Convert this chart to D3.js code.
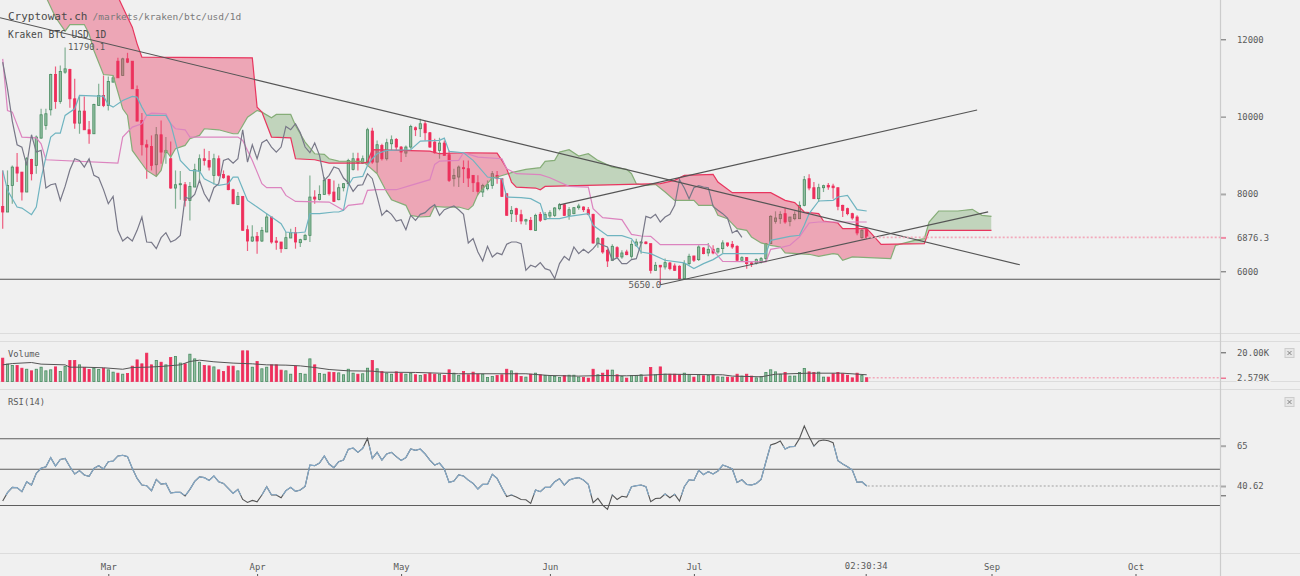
<!DOCTYPE html>
<html><head><meta charset="utf-8">
<script src="https://cdnjs.cloudflare.com/ajax/libs/d3/7.8.5/d3.min.js"></script>
<style>
html,body{margin:0;padding:0;background:#f0f0f0;overflow:hidden}
svg{display:block}
text{font-family:"DejaVu Sans Mono",monospace;fill:#5a5a5a}
</style></head><body>
<svg id="c" width="1300" height="576"></svg>
<script>
const title="Cryptowat.ch", pathLabel="/markets/kraken/btc/usd/1d", pairLabel="Kraken BTC USD 1D";
const monthTicks=["2018-03-01","2018-04-01","2018-05-01","2018-06-01","2018-07-01","2018-09-01","2018-10-01"];
const priceTicks=[12000,10000,8000,6876.3,6000];
const volumeTicks=[20000,2579];
const rsiTicks=[65,40.62,35];
const lastPrice=6876.3,lastVolume=2.579,lastRsi=40.62,floorPrice=5793;
const opens=[7679,7533,8222,8695,8566,8050,8894,8739,9445,9772,
10177,11090,10392,11150,11219,10461,9832,10143,9660,9557,
10289,10547,10289,10892,11434,11064,11495,11434,10702,9901,
9273,9230,8756,9531,9066,8911,8153,8239,8239,7834,
8179,8592,8911,8868,8480,8911,8506,8463,8110,7731,
7938,7076,6783,6904,6783,7016,7404,6783,6758,6585,
6861,6999,6740,6818,6930,7920,7860,7989,8377,8050,
7852,8162,8265,8636,8911,8799,8799,9626,8825,9256,
8911,9299,9411,9213,9058,9213,9712,9687,9816,9583,
9342,9127,9316,9015,8395,8438,8679,8653,8481,8291,
8050,8136,8222,8481,8395,8007,7490,7619,7464,7301,
7318,7059,7473,7344,7430,7447,7619,7723,7447,7490,
7645,7662,7593,7473,6715,6844,6543,6284,6612,6371,
6500,6388,6672,6732,6758,6715,6026,6156,6112,6216,
6138,6130,5811,6199,6397,6302,6603,6474,6569,6500,
6586,6733,6698,6646,6285,6354,6216,6216,6242,6328,
6715,7292,7361,7491,7292,7361,7361,7706,8395,8162,
7878,8162,8223,8205,8162,7706,7620,7491,7404,6870,7077];
const closes=[7533,8222,8695,8540,8050,8911,8523,9471,10048,10074,
11090,10392,11167,11236,10461,9832,10143,9660,9557,10315,
10547,10289,10909,11004,11004,11495,11409,10720,9884,9273,
9212,8739,9531,9083,9126,8153,8239,8265,7834,8196,
8627,8911,8868,8695,8911,8480,8420,8112,7748,7938,
7059,6783,6887,6783,7059,7404,6758,6749,6585,6870,
6999,6758,6818,6930,7920,7869,7989,8351,8007,7809,
8162,8265,8868,8911,8799,8911,9661,8825,9273,8911,
9325,9402,9213,9084,9213,9747,9661,9816,9583,9213,
9066,9316,8998,8351,8481,8696,8653,8412,8291,8067,
8222,8239,8524,8395,7938,7447,7576,7473,7301,7335,
7077,7447,7318,7473,7516,7637,7723,7447,7593,7645,
7688,7593,7473,6732,6844,6500,6267,6646,6371,6474,
6431,6698,6758,6758,6715,6026,6156,6112,6224,6069,
6026,5811,6199,6388,6285,6629,6457,6569,6474,6586,
6733,6672,6629,6285,6354,6199,6199,6302,6328,6715,
7422,7379,7473,7275,7404,7473,7706,8369,8154,7878,
8162,8214,8180,8162,7680,7577,7491,7379,6991,7060,6876.3];
const highs=[8609,8609,8739,9057,8566,8954,8911,9514,10203,10203,
11107,11297,11323,11790.1,11236,10978,10521,10521,9884,10332,
10849,11064,11038,11064,11520,11520,11650,11434,10806,10091,
9402,9514,9729,9901,9471,9359,8609,8592,8308,8308,
8782,9023,9169,9109,9040,8997,8609,8480,8136,8050,
7938,7188,7188,7016,7145,7490,7404,6887,6758,7016,
7102,7145,6844,6973,8480,8093,8222,8437,8394,8351,
8265,8283,8911,9066,9066,8998,9712,9712,9385,9299,
9428,9514,9445,9239,9256,9790,9747,9945,9885,9600,
9428,9454,9385,9127,8653,8739,8868,8868,8481,8481,
8265,8351,8593,8593,8395,8007,7688,7645,7593,7361,
7404,7490,7533,7533,7576,7662,7766,7731,7662,7662,
7749,7680,7662,7490,6887,6870,6586,6698,6646,6543,
6560,6801,6844,6784,6775,6715,6242,6156,6328,6242,
6199,6156,6285,6457,6397,6672,6629,6733,6672,6612,
6801,6741,6784,6672,6388,6371,6242,6328,6371,6715,
7448,7551,7551,7646,7404,7551,7809,8464,8507,8309,
8266,8240,8283,8266,8162,7723,7646,7516,7448,7103,7146];
const lows=[7102,7533,7748,8308,7834,8050,8351,8523,9428,9660,
10031,10203,10332,11107,10229,9686,9557,9660,9299,9557,
10289,10246,10160,10892,11004,11064,11383,10720,9884,8997,
8394,8609,8454,8782,8782,8136,7619,7851,7679,7317,
8179,8308,8739,8609,8248,8454,8394,8093,7731,7731,
7059,6525,6758,6456,6758,7016,6715,6559,6482,6585,
6861,6585,6628,6801,6758,7748,7834,7989,7963,7792,
7835,8067,8222,8610,8610,8782,8799,8782,8541,8868,
8868,9127,9127,8825,8954,9170,9497,9471,9385,9196,
9041,8911,8998,8308,8196,8179,8283,8179,8050,7964,
7921,8093,8136,8265,7921,7447,7275,7275,7215,7206,
7059,7042,7275,7318,7361,7404,7576,7430,7335,7473,
7593,7533,7447,6715,6612,6457,6112,6267,6327,6327,
6414,6327,6629,6457,6698,5940,6009,5650,6044,6026,
6009,5794,5794,6156,6242,6267,6440,6388,6440,6457,
6474,6629,6586,6259,6242,6069,6112,6173,6199,6242,
6715,7232,7232,7232,7163,7318,7361,7680,8093,7878,
7792,8050,8111,7878,7577,7404,7448,7336,6931,6845,6845];
const volumes=[16.0,11.9,11.0,11.0,9.1,8.4,7.3,8.4,9.8,7.3,
8.0,10.0,6.8,10.3,14.4,14.4,11.4,9.6,8.2,9.1,
8.2,9.1,8.0,6.4,5.7,5.0,5.5,10.5,14.8,12.1,
19.4,11.4,14.4,13.2,11.4,16.4,17.1,12.6,12.1,18.7,
15.5,13.2,11.0,10.7,10.0,8.0,6.8,10.5,10.5,7.3,
21.0,21.0,9.8,13.7,8.7,9.8,11.4,11.4,7.8,7.3,
5.0,10.5,5.5,5.0,15.5,11.4,5.5,5.0,6.4,6.2,
5.9,4.6,8.4,5.7,5.0,5.3,9.1,14.4,8.7,6.8,
5.7,5.0,6.6,5.7,5.0,5.7,4.6,4.1,4.8,5.7,
5.0,5.0,
4.1,8.0,5.7,4.1,6.8,4.6,6.4,5.0,5.0,2.7,
3.4,4.1,4.6,8.4,7.3,5.7,3.4,3.0,5.0,5.7,
4.6,4.1,4.1,3.4,2.7,4.1,4.3,4.3,3.0,2.7,
2.3,8.4,4.6,5.7,7.8,7.8,4.6,3.4,2.3,4.1,
4.1,4.6,3.0,9.6,4.6,10.0,5.0,5.0,5.0,4.6,
5.7,4.8,3.0,4.6,3.9,4.1,4.6,3.2,3.0,3.0,
2.7,5.0,3.7,5.0,3.7,2.5,3.4,6.2,8.0,6.6,
5.0,6.2,3.7,3.7,6.2,8.9,6.6,6.2,6.4,3.0,
3.0,5.3,6.2,5.3,4.3,2.5,5.7,4.1,2.579];
const rsiValues=[31.5,36.6,39.8,39.6,37.2,43.2,41.2,48.3,51.3,52.3,
57.8,52.7,56.7,57.3,52.3,47.9,49.9,47.3,46.5,51.3,
52.9,50.9,55.3,55.7,58.8,59.2,58.4,51.3,45.2,41.2,
40.8,37.8,44.6,41.8,42.2,36.4,36.8,36.8,34.6,38.6,
43.4,46.1,45.7,44.0,46.7,43.2,42.2,39.2,36.2,38.6,
32.5,30.7,31.9,31.1,35.2,40.2,35.2,35.2,33.5,37.8,
39.8,37.4,38.2,40.4,53.3,52.9,54.5,58.8,53.9,51.7,
55.3,56.3,62.8,63.6,61.0,63.4,69.4,57.3,61.0,56.3,
60.0,61.0,58.4,56.1,57.8,63.0,62.2,63.0,60.0,56.3,
53.3,54.5,
50.9,42.8,43.6,47.3,46.7,44.2,42.2,38.8,41.6,41.6,
47.7,45.2,39.6,34.2,35.2,33.9,32.5,32.3,30.1,38.2,
37.2,39.8,39.8,43.2,45.0,41.2,44.2,45.2,45.7,44.2,
41.6,30.5,33.1,29.1,26.5,35.2,32.5,34.4,33.9,40.2,
40.8,41.2,40.2,31.1,33.1,33.3,35.8,33.5,35.6,31.5,
40.2,44.4,44.0,50.1,47.5,49.3,47.9,49.7,53.3,52.3,
50.9,42.8,44.4,41.6,41.2,42.2,44.6,55.3,65.4,66.4,
67.8,63.0,64.4,64.6,69.4,76.9,70.5,64.8,67.8,68.4,
68.0,66.8,55.9,53.9,52.3,50.3,42.8,43.2,40.62];
const rsiLevels=[69.2,50.8,28.8];
const tenkanDays=[0,1,3,4,6,7,8,9,10,11,12,13,15,16,20,21,22,23,25,27,28,29,30,34,35,36,37,39,41,42,44,45,47,48,49,50,51,53,55,56,58,59,61,63,64,66,69,70,71,72,73,75,76,77,78,80,85,87,91,92,93,96,98,101,102,104,105,108,110,112,113,116,118,122,123,126,129,131,133,135,138,142,144,146,148,150,152,159,160,164,166,167,168,170,173,174,176,178,180];
const tenkanVals=[8609,8093,7662,7636,7464,7662,8394,8954,9471,9574,9574,10031,10203,10547,10530,10530,10315,10246,10418,10521,10504,10246,10031,10031,9815,9341,8868,8609,8592,8394,8265,8222,8265,8437,8437,8136,7834,7662,7490,7404,7231,7016,6990,7016,7490,7490,7533,7533,7576,8222,8420,8455,8739,8911,9041,9127,9144,9368,9385,9445,9101,9066,8868,8438,8420,8395,7921,7904,7878,7749,7361,7361,7421,7490,7189,6922,6922,6844,6500,6457,6285,6216,6069,6199,6302,6457,6457,6457,6801,6905,6931,7189,7491,7818,7835,7921,7964,7594,7559];
const kijunDays=[0,1,2,4,7,8,9,24,25,27,29,30,31,34,35,36,38,39,49,50,52,54,55,58,59,61,68,71,72,75,76,78,82,85,89,90,91,95,96,99,104,105,107,112,114,118,122,123,125,129,131,133,135,137,147,148,150,159,160,162,164,166,168,170,180];
const kijunVals=[11495,10160,10117,9471,9453,9298,8885,8799,9471,9729,9815,10031,10091,10074,9815,9686,9660,9471,9471,9385,8868,8265,8162,8162,7963,7808,7791,7576,7706,7749,8093,8110,8110,8222,8369,8765,8851,8868,9066,8954,8911,8653,8524,8498,8420,8196,8179,7619,7387,7335,6956,6913,6905,6689,6689,6543,6259,6242,6569,6612,6672,6888,7249,7275,7275];
const spanADays=[9,11,13,14,17,18,19,21,23,25,26,27,29,30,32,33,34,35,36,38,39,41,42,45,48,49,51,53,54,56,57,60,61,63,65,67,68,70,75,76,78,80,81,84,85,87,89,90,92,95,97,98,99,101,102,103,106,109,112,113,115,116,118,120,122,124,127,130,131,132,134,136,138,140,144,145,148,149,151,153,155,156,158,160,162,163,168,170,173,174,175,177,185,186,190,192,193,195,199,202,204,206];
const spanAVals=[13100,12571,12210,12382,12382,12141,11710,11090,11064,10203,10031,9126,8782,8609,8454,8609,9126,8954,9169,9256,9428,9514,9686,9660,9557,9557,9987,10160,10117,9970,10056,10056,9772,9341,9040,9023,8911,8851,8842,8739,8524,8050,7852,7706,7447,7404,7421,7680,7662,7662,7593,7706,7990,8265,8420,8438,8550,8636,8679,8842,8868,9084,9144,8980,9041,8868,8696,8636,8524,8265,8222,8248,8050,7835,7835,7706,7706,7447,7361,7103,7060,6888,6733,6672,6629,6474,6440,6388,6457,6440,6285,6371,6328,6672,6801,6844,7275,7559,7559,7602,7447,7421];
const spanBDays=[9,20,24,26,27,28,29,52,53,54,56,60,61,65,68,75,76,77,89,91,96,103,104,105,106,107,111,112,113,137,140,142,148,149,152,160,163,165,167,170,171,174,175,180,181,183,192,193,206];
const spanBVals=[14800,14000,13100,12572,12313,11882,11538,11520,10246,10117,9471,9453,8911,8885,8799,8799,8825,9144,9109,9041,9066,9058,8868,8653,8308,8179,8153,8110,8196,8266,8352,8481,8507,8309,8033,8033,7835,7775,7534,7490,7301,7249,7103,7103,6974,6698,6715,7060,7060];
const volAvgDays=[0,2,6,8,13,14,17,21,25,27,30,33,37,39,41,44,48,52,55,59,62,65,68,72,77,79,86,91,95,105,109,114,120,125,130,136,138,150,152,158,161,168,175,180];
const volAvgVals=[11.4,12.3,13.0,11.9,11.4,9.8,9.8,9.4,8.4,9.6,9.8,10.3,11.4,13.7,14.6,13.5,12.6,12.1,11.4,11.2,10.7,9.6,8.2,7.3,7.1,6.4,6.2,5.7,5.3,5.3,5.3,4.1,3.7,4.1,3.9,4.6,5.0,4.6,3.7,3.2,5.0,5.7,5.7,4.6];
const trendDays=[[-0.56,211.9],[116,203],[137,205.3]];
const trendPrices=[[12556,6168],[7718,10173],[5650,7537]];

const W=1220,t0=Date.UTC(2018,1,7),dayMs=864e5;
const dateOf=k=>new Date(t0+k*dayMs);
const x=d3.scaleUtc().domain([dateOf(0),new Date(Date.UTC(2018,9,1))]).range([2.7,1135.5]);
const xd=k=>x(dateOf(k));
const y=d3.scaleLinear().domain([6000,12000]).range([271.3,39.3]);
const yVol=d3.scaleLinear().domain([0,20]).range([381.5,352.3]);
const yRsi=d3.scaleLinear().domain([35,65]).range([495.3,445.7]);
const RED="#ee2e5b",GREEN="#478c60",GREENF="#93bea2";
const svg=d3.select("#c");
const defs=svg.append("defs");
const pts=(ds,vs)=>ds.map((d,i)=>[d,vs[i]]);
const A=pts(spanADays,spanAVals),B=pts(spanBDays,spanBVals);
const mainPane=svg.append("g").attr("clip-path","url(#mainClip)");
defs.append("clipPath").attr("id","mainClip").append("rect").attr("x",0).attr("y",0).attr("width",W).attr("height",333);

// separators
[[333.5],[341.5],[381.5],[389.5],[553.5]].forEach(([v])=>svg.insert("line",":first-child").attr("x1",0).attr("x2",1300).attr("y1",v).attr("y2",v).attr("stroke","#dcdcdc").attr("stroke-width",1.2));

// candles
const candleG=mainPane.append("g");
const idx=d3.range(closes.length);
const isUp=i=>closes[i]>=opens[i];
candleG.selectAll("line").data(idx).join("line")
 .attr("x1",i=>xd(i)).attr("x2",i=>xd(i)).attr("y1",i=>y(highs[i])).attr("y2",i=>y(lows[i]))
 .attr("stroke",i=>isUp(i)?"#5f9b76":RED).attr("stroke-width",1.2).attr("opacity",.75);
candleG.selectAll("rect").data(idx).join("rect")
 .attr("x",i=>xd(i)-1.1).attr("width",2.2)
 .attr("y",i=>y(Math.max(opens[i],closes[i])))
 .attr("height",i=>Math.max(1,Math.abs(y(opens[i])-y(closes[i]))))
 .attr("fill",i=>isUp(i)?GREENF:RED).attr("stroke",i=>isUp(i)?GREEN:RED).attr("stroke-width",.8);

// cloud
const bottomV=y.invert(333),topV=y.invert(-5);
const areaAbove=a=>d3.area().x(d=>xd(d[0])).y1(d=>y(d[1])).y0(y(topV))(a);
const areaBelow=a=>d3.area().x(d=>xd(d[0])).y1(d=>y(d[1])).y0(y(bottomV))(a);
defs.append("clipPath").attr("id","aboveA").append("path").attr("d",areaAbove(A));
defs.append("clipPath").attr("id","aboveB").append("path").attr("d",areaAbove(B));
mainPane.append("g").attr("clip-path","url(#aboveA)").append("path").attr("d",areaBelow(B)).attr("fill","#e8365f").attr("opacity",.4);
mainPane.append("g").attr("clip-path","url(#aboveB)").append("path").attr("d",areaBelow(A)).attr("fill","#72a664").attr("opacity",.37);

const line=d3.line().x(d=>xd(d[0])).y(d=>y(d[1]));
mainPane.append("path").attr("d",line(A)).attr("fill","none").attr("stroke","#86ad78").attr("stroke-width",1.2);
mainPane.append("path").attr("d",line(B)).attr("fill","none").attr("stroke","#e8365f").attr("stroke-width",1.2);
mainPane.append("path").attr("d",line(pts(kijunDays,kijunVals))).attr("fill","none").attr("stroke","#dc84bf").attr("stroke-width",1.2);
mainPane.append("path").attr("d",line(pts(tenkanDays,tenkanVals))).attr("fill","none").attr("stroke","#6fb4c0").attr("stroke-width",1.2);
const chikou=closes.map((c,i)=>[i-26,c]).filter(d=>d[0]>=0);
mainPane.append("path").attr("d",line(chikou)).attr("fill","none").attr("stroke","#787888").attr("stroke-width",1.2);

// drawn trendlines and rules
mainPane.selectAll(".tr").data(trendDays).join("line").attr("class","tr")
 .attr("x1",d=>xd(d[0])).attr("x2",d=>xd(d[1]))
 .attr("y1",(d,i)=>y(trendPrices[i][0])).attr("y2",(d,i)=>y(trendPrices[i][1]))
 .attr("stroke","#555").attr("stroke-width",1.1);
svg.append("line").attr("x1",0).attr("x2",W).attr("y1",y(floorPrice)).attr("y2",y(floorPrice)).attr("stroke","#555").attr("stroke-width",1.1);
svg.append("line").attr("x1",xd(180)).attr("x2",W).attr("y1",y(lastPrice)).attr("y2",y(lastPrice)).attr("stroke","#f2a9bb").attr("stroke-width",1.6).attr("stroke-dasharray","2 2");

// volume
const volG=svg.append("g");
volG.selectAll("rect").data(idx).join("rect")
 .attr("x",i=>xd(i)-1.1).attr("width",2.2)
 .attr("y",i=>yVol(volumes[i])).attr("height",i=>yVol(0)-yVol(volumes[i]))
 .attr("fill",i=>isUp(i)?GREENF:RED).attr("stroke",i=>isUp(i)?GREEN:RED).attr("stroke-width",.8);
svg.append("path").attr("d",d3.line().x(d=>xd(d[0])).y(d=>yVol(d[1]))(pts(volAvgDays,volAvgVals))).attr("fill","none").attr("stroke","#555").attr("stroke-width",1);
svg.append("line").attr("x1",xd(180)+2).attr("x2",W).attr("y1",yVol(lastVolume)).attr("y2",yVol(lastVolume)).attr("stroke","#f2a9bb").attr("stroke-width",1.4).attr("stroke-dasharray","2 2");

// rsi
rsiLevels.forEach(v=>svg.append("line").attr("x1",0).attr("x2",W).attr("y1",yRsi(v)).attr("y2",yRsi(v)).attr("stroke","#5e5e5e").attr("stroke-width",1.1));
const rsiLine=d3.line().x((d,i)=>xd(i)).y(d=>yRsi(d));
svg.append("path").attr("d",rsiLine(rsiValues)).attr("fill","none").attr("stroke","#555").attr("stroke-width",1.1);
defs.append("clipPath").attr("id","rsiBand").append("rect").attr("x",0).attr("width",W).attr("y",yRsi(65)).attr("height",yRsi(35)-yRsi(65));
svg.append("path").attr("d",rsiLine(rsiValues)).attr("clip-path","url(#rsiBand)").attr("fill","none").attr("stroke","#84a8c6").attr("stroke-width",1.2);
svg.append("line").attr("x1",xd(180)+1).attr("x2",W).attr("y1",yRsi(lastRsi)).attr("y2",yRsi(lastRsi)).attr("stroke","#bbb").attr("stroke-width",1.3).attr("stroke-dasharray","2 2");

// axes
svg.append("line").attr("x1",W+.5).attr("x2",W+.5).attr("y1",0).attr("y2",576).attr("stroke","#ccc").attr("stroke-width",1.2);
function rightAxis(scale,vals,fmt,styles){
 const g=svg.append("g").attr("transform",`translate(${W+1},0)`)
  .call(d3.axisRight(scale).tickValues(vals).tickFormat(fmt).tickSize(5).tickPadding(11));
 g.select(".domain").remove();
 g.selectAll(".tick line").attr("stroke",(d,i)=>styles[i][0]).attr("stroke-width",(d,i)=>styles[i][1]);
 g.selectAll(".tick text").attr("font-size",8.9).attr("font-family",'"DejaVu Sans Mono",monospace')
   .attr("stroke","#f0f0f0").attr("stroke-width",2).attr("paint-order","stroke");
 return g;
}
rightAxis(y,priceTicks,d=>d===lastPrice?d3.format(".1f")(d):d3.format("d")(d),[["#666",1],["#888",1.2],["#aaa",2],["#ef8ba5",2],["#666",1]]);
rightAxis(yVol,[20,lastVolume],d=>d===20?"20.00K":d3.format(".3f")(d)+"K",[["#555",1],["#ee6f8e",1.4]]);
rightAxis(yRsi,rsiTicks,d=>d===35?"":d===65?"65":d3.format(".2f")(d),[["#aaa",2],["#aaa",2],["#555",1]]);

const xAxis=svg.append("g").attr("transform","translate(0,576)")
 .call(d3.axisTop(x).tickValues(monthTicks.map(s=>new Date(s+"T00:00:00Z"))).tickFormat(d3.utcFormat("%b")).tickSize(2).tickPadding(4));
xAxis.select(".domain").remove();
xAxis.selectAll(".tick line").attr("stroke","#555");
xAxis.selectAll(".tick text").attr("font-size",8.9).attr("font-family",'"DejaVu Sans Mono",monospace');
svg.append("text").attr("x",xd(180)-.5).attr("y",569).attr("text-anchor","middle").attr("font-size",8.9).text("02:30:34");
svg.append("line").attr("x1",xd(180)-.5).attr("x2",xd(180)-.5).attr("y1",574).attr("y2",576).attr("stroke","#555");

// labels
svg.append("text").attr("x",8).attr("y",20).attr("font-size",11).style("fill","#4a4a4a").text(title);
svg.append("text").attr("x",92.5).attr("y",20).attr("font-size",9.5).style("fill","#7a7a7a").text(pathLabel);
svg.append("text").attr("x",8).attr("y",38).attr("font-size",9.6).style("fill","#4a4a4a").text(pairLabel);
svg.append("text").attr("x",xd(13)+40).attr("y",50).attr("text-anchor","end").attr("font-size",8.8).text(d3.format(".1f")(highs[13]));
svg.append("text").attr("x",xd(137)+1).attr("y",y(5650)+3).attr("text-anchor","end").attr("font-size",9.1).text(d3.format(".1f")(lows[137]));
svg.append("text").attr("x",8).attr("y",357).attr("font-size",8.8).text("Volume");
svg.append("text").attr("x",8).attr("y",405).attr("font-size",8.8).text("RSI(14)");

// close boxes
[353,402].forEach(cy=>{
 const g=svg.append("g").attr("transform",`translate(1289.5,${cy})`);
 g.append("rect").attr("x",-4.5).attr("y",-4.5).attr("width",9).attr("height",9).attr("fill","#e6e6e6").attr("stroke","#ccc");
 g.append("path").attr("d","M-2,-2L2,2M2,-2L-2,2").attr("stroke","#777").attr("stroke-width",.9);
});
</script>
</body></html>
